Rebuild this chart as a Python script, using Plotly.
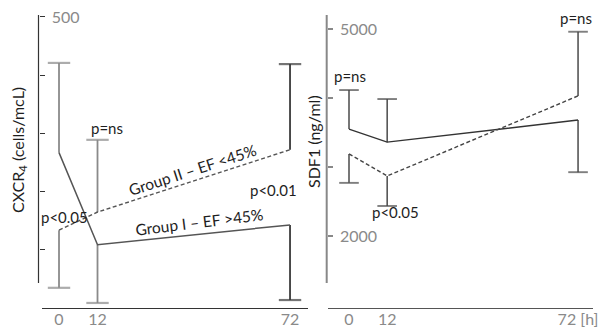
import plotly.graph_objects as go

W, H = 601, 329


def px(x):
    return x / W


def py(y):
    return 1 - y / H


# Time points [h]
hours = [0, 12, 72]
hour_labels_left = ["0", "12", "72"]
hour_labels_right = ["0", "12", "72 [h]"]

# CXCR4 (cells/mcL): means, SD and direction of the drawn half error bar (+1 up, -1 down)
cxcr4_g1 = [267, 109, 143]
cxcr4_g1_sd = [154, 100, 129]
cxcr4_g1_dir = [1, -1, -1]
cxcr4_g2 = [134, 165, 272]
cxcr4_g2_sd = [99, 124, 147]
cxcr4_g2_dir = [-1, 1, 1]

# SDF1 (ng/ml)
sdf1_g1 = [3550, 3360, 3680]
sdf1_g1_sd = [565, 625, 755]
sdf1_g1_dir = [1, 1, -1]
sdf1_g2 = [3190, 2870, 4030]
sdf1_g2_sd = [420, 435, 930]
sdf1_g2_dir = [-1, -1, 1]

# Labelled and unlabelled tick positions
cxcr4_ticks = [500]
cxcr4_minor_ticks = [100, 200, 300, 400]
sdf1_ticks = [2000, 5000]
sdf1_minor_ticks = [3000, 4000]

FONT = "Lato"
TXT = "#1e1e1e"
DASH = "4px,2.5px"

fig = go.Figure()


def add_bars(means, sds, dirs, xa, ya, colors, width, cap):
    for h, m, s, d, c in zip(hours, means, sds, dirs, colors):
        fig.add_trace(go.Scatter(
            x=[h, h], y=[m, m + d * s], xaxis=xa, yaxis=ya,
            mode="lines+markers",
            line=dict(color=c, width=width),
            marker=dict(symbol="line-ew", size=[0, cap],
                        line=dict(color=c, width=width + 0.4)),
            showlegend=False, hoverinfo="skip",
        ))


# Left panel: CXCR4
left_cols = ["#8a8a8a", "#8a8a8a", "#3a3a3a"]
add_bars(cxcr4_g1, cxcr4_g1_sd, cxcr4_g1_dir, "x", "y", left_cols, 1.8, 16)
add_bars(cxcr4_g2, cxcr4_g2_sd, cxcr4_g2_dir, "x", "y", left_cols, 1.8, 16)
fig.add_trace(go.Scatter(x=hours, y=cxcr4_g1, xaxis="x", yaxis="y", mode="lines",
                         line=dict(color="#555555", width=1.5),
                         name="Group I – EF >45%", showlegend=False))
fig.add_trace(go.Scatter(x=hours, y=cxcr4_g2, xaxis="x", yaxis="y", mode="lines",
                         line=dict(color="#555555", width=1.5, dash=DASH),
                         name="Group II – EF <45%", showlegend=False))

# Right panel: SDF1
right_cols = ["#4a4a4a"] * 3
add_bars(sdf1_g1, sdf1_g1_sd, sdf1_g1_dir, "x2", "y2", right_cols, 1.5, 14)
add_bars(sdf1_g2, sdf1_g2_sd, sdf1_g2_dir, "x2", "y2", right_cols, 1.5, 14)
fig.add_trace(go.Scatter(x=hours, y=sdf1_g1, xaxis="x2", yaxis="y2", mode="lines",
                         line=dict(color="#333333", width=1.4),
                         name="Group I – EF >45%", showlegend=False))
fig.add_trace(go.Scatter(x=hours, y=sdf1_g2, xaxis="x2", yaxis="y2", mode="lines",
                         line=dict(color="#444444", width=1.4, dash=DASH),
                         name="Group II – EF <45%", showlegend=False))

tickfont = dict(family=FONT, size=16, color="#8a8a8a")

fig.update_layout(
    width=W, height=H,
    margin=dict(l=0, r=0, t=0, b=0, autoexpand=False),
    paper_bgcolor="white", plot_bgcolor="white",
    showlegend=False,
    xaxis=dict(domain=[px(42), px(308)], range=[-5.3, 77.6],
               tickvals=hours, ticktext=hour_labels_left,
               showline=True, linecolor="#333333", linewidth=1.2,
               ticks="", ticklabelstandoff=-3,
               showgrid=False, zeroline=False, tickfont=tickfont,
               anchor="y", automargin=False),
    yaxis=dict(domain=[py(307.5), py(0)], range=[1.2, 529],
               tickvals=cxcr4_ticks, ticktext=["500"],
               side="right", ticks="outside", ticklen=5,
               tickcolor="#333333", tickwidth=1, ticklabelstandoff=4,
               minor=dict(tickvals=cxcr4_minor_ticks, ticks="outside",
                          ticklen=5, tickcolor="#333333", tickwidth=1,
                          showgrid=False),
               showline=False, showgrid=False, zeroline=False,
               tickfont=tickfont, anchor="free", position=px(38.5),
               automargin=False),
    xaxis2=dict(domain=[px(328), px(593)], range=[-6.6, 76.7],
                tickvals=hours, ticktext=hour_labels_right,
                showline=True, linecolor="#555555", linewidth=1.2,
                ticks="", ticklabelstandoff=-3,
                showgrid=False, zeroline=False, tickfont=tickfont,
                anchor="y2", automargin=False),
    yaxis2=dict(domain=[py(307.5), py(0)], range=[964, 5420],
                tickvals=sdf1_ticks, ticktext=["2000", "5000"],
                side="right", ticks="outside", ticklen=5,
                tickcolor="#888888", tickwidth=1.5, ticklabelstandoff=4,
                minor=dict(tickvals=sdf1_minor_ticks, ticks="outside",
                           ticklen=5, tickcolor="#888888", tickwidth=1.5,
                           showgrid=False),
                showline=False, showgrid=False, zeroline=False,
                tickfont=tickfont, anchor="free", position=px(326.7),
                automargin=False),
)

# Vertical axis lines (shorter than the plotting area)
fig.add_shape(type="line", xref="paper", yref="paper",
              x0=px(38.5), x1=px(38.5), y0=py(283), y1=py(15),
              line=dict(color="#333333", width=1.2))
fig.add_shape(type="line", xref="paper", yref="paper",
              x0=px(326.7), x1=px(326.7), y0=py(283), y1=py(15),
              line=dict(color="#888888", width=2))


def label(text, x, y, angle=0, size=15):
    fig.add_annotation(text=text, x=px(x), y=py(y), xref="paper", yref="paper",
                       showarrow=False, textangle=angle,
                       xanchor="center", yanchor="middle",
                       font=dict(family=FONT, size=size, color=TXT))


# Axis titles
label("CXCR<sub>4</sub> (cells/mcL)", 18, 150, -90, 16)
label("SDF1 (ng/ml)", 313, 142, -90, 16)

# Left panel labels
label("p=ns", 107, 128)
label("p<0.05", 64, 217)
label("p<0.01", 273, 190)
label("Group II – EF <45%", 192, 170, -18, 15.5)
label("Group I – EF >45%", 199, 222, -7, 15.5)

# Right panel labels
label("p=ns", 350, 76)
label("p<0.05", 395, 212)
label("p=ns", 576, 18)

fig.write_html("out.html")
